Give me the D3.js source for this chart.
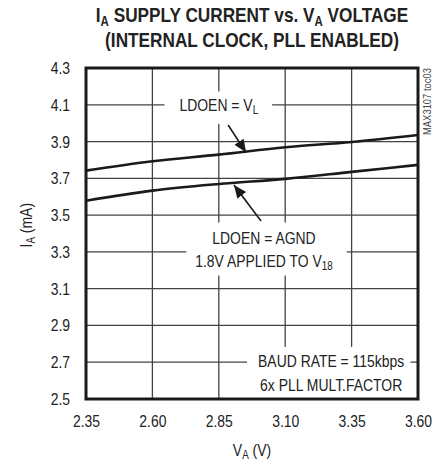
<!DOCTYPE html>
<html><head><meta charset="utf-8">
<script src="https://cdn.jsdelivr.net/npm/d3@7"></script>
<style>
html,body{margin:0;padding:0;background:#fff;}
svg{display:block;}
text{font-family:"Liberation Sans",Arial,sans-serif;fill:#222;}
</style></head>
<body>
<script>
// ---- data ----
const vA = [2.35, 2.60, 2.85, 3.10, 3.35, 3.60];
const iA_LDOEN_VL = [3.742, 3.793, 3.829, 3.869, 3.898, 3.936];
const iA_LDOEN_AGND = [3.578, 3.633, 3.669, 3.697, 3.735, 3.773];
const xTickLabels = ["2.35", "2.60", "2.85", "3.10", "3.35", "3.60"];
const yTickValues = [2.5, 2.7, 2.9, 3.1, 3.3, 3.5, 3.7, 3.9, 4.1, 4.3];
const yTickLabels = ["2.5", "2.7", "2.9", "3.1", "3.3", "3.5", "3.7", "3.9", "4.1", "4.3"];

const W = 443, H = 462;
const m = {l: 86, r: 25, t: 68, b: 63};
const iw = W - m.l - m.r, ih = H - m.t - m.b;
const SX = 0.82; // horizontal condensing for a narrow look

const svg = d3.select("body").append("svg").attr("width", W).attr("height", H);
const x = d3.scaleLinear().domain([2.35, 3.60]).range([m.l, m.l + iw]);
const y = d3.scaleLinear().domain([2.5, 4.3]).range([m.t + ih, m.t]);

function ntext(tx, ty, extra) {
  const gg = svg.append("g").attr("transform", `translate(${tx},${ty}) ${extra || ""} scale(${SX},1)`);
  return gg.append("text").attr("x", 0).attr("y", 0);
}
function addParts(t, parts, big, small, shift) {
  parts.forEach(p => {
    if (p.sub) t.append("tspan").text(p.t).style("font-size", small + "px").attr("dy", shift);
    else t.append("tspan").text(p.t).style("font-size", big + "px").attr("dy", p.back ? -shift : null);
  });
}

// title
const t1 = ntext(x(2.975), 22).attr("text-anchor", "middle").style("font-weight", "bold");
addParts(t1, [{t: "I"}, {t: "A", sub: true}, {t: " SUPPLY CURRENT vs. V", back: true}, {t: "A", sub: true}, {t: " VOLTAGE", back: true}], 21, 14, 4);
ntext(x(2.975), 47).attr("text-anchor", "middle").style("font-weight", "bold").style("font-size", "21px")
  .text("(INTERNAL CLOCK, PLL ENABLED)");

// grid
const g = svg.append("g");
g.selectAll(".vg").data(vA.slice(1, -1)).join("line")
  .attr("x1", d => x(d)).attr("x2", d => x(d)).attr("y1", y(2.5)).attr("y2", y(4.3))
  .attr("stroke", "#444").attr("stroke-width", 1.3);
g.selectAll(".hg").data(yTickValues.slice(1, -1)).join("line")
  .attr("x1", x(2.35)).attr("x2", x(3.60)).attr("y1", d => y(d)).attr("y2", d => y(d))
  .attr("stroke", "#444").attr("stroke-width", 1.3);

// axes tick labels via d3 axes
const xAxis = d3.axisBottom(x).tickValues(vA).tickFormat((d, i) => xTickLabels[i]).tickSize(0).tickPadding(16);
const ax = svg.append("g").attr("transform", `translate(0,${m.t + ih})`).call(xAxis);
ax.select(".domain").remove();
ax.selectAll("text").style("font-size", "17px").style("fill", "#222").style("font-family", "Liberation Sans, Arial, sans-serif")
  .attr("transform", `scale(${SX},1)`);
const yAxis = d3.axisLeft(y).tickValues(yTickValues).tickFormat((d, i) => yTickLabels[i]).tickSize(0).tickPadding(16 / SX);
const ay = svg.append("g").attr("transform", `translate(${m.l},0)`).call(yAxis);
ay.select(".domain").remove();
ay.selectAll("text").style("font-size", "17px").style("fill", "#222").style("font-family", "Liberation Sans, Arial, sans-serif")
  .attr("transform", `scale(${SX},1)`);

// axis titles
const xt = ntext(x(2.975), 456).attr("text-anchor", "middle");
addParts(xt, [{t: "V"}, {t: "A", sub: true}, {t: " (V)", back: true}], 17, 12, 3);
const yt = ntext(32, y(3.445), "rotate(-90)").attr("text-anchor", "middle");
addParts(yt, [{t: "I"}, {t: "A", sub: true}, {t: " (mA)", back: true}], 17, 12, 3);

// watermark
ntext(431, y(4.3), "rotate(-90)").attr("text-anchor", "end")
  .style("font-size", "11.5px").style("fill", "#444").text("MAX3107 toc03");

// annotation labels with white boxes
function label(cx, cy, lines, pad) {
  const grp = svg.append("g");
  const rect = grp.append("rect").attr("fill", "#fff");
  const inner = grp.append("g").attr("transform", `translate(${cx},${cy}) scale(${SX},1)`);
  const t = inner.append("text").attr("text-anchor", "middle");
  lines.forEach((parts, i) => {
    const ln = t.append("tspan").attr("x", 0).attr("y", i * 23.5).style("font-size", "17px");
    parts.forEach((p, j) => {
      if (j === 0) ln.text(p.t);
      else if (p.sub) t.append("tspan").text(p.t).style("font-size", "12px").attr("dy", 3);
      else t.append("tspan").text(p.t).style("font-size", "17px");
    });
  });
  const bb = t.node().getBBox();
  rect.attr("x", cx + bb.x * SX - pad[3]).attr("y", cy + bb.y - pad[0])
    .attr("width", bb.width * SX + pad[1] + pad[3]).attr("height", bb.height + pad[0] + pad[2]);
  return grp;
}
label(x(2.85), y(4.1) + 6, [[{t: "LDOEN = V"}, {t: "L", sub: true}]], [4, 14, 8, 15]);
label(x(3.02), y(3.3) - 8, [[{t: "LDOEN = AGND"}], [{t: "1.8V APPLIED TO V"}, {t: "18", sub: true}]], [6, 14, 3, 9]);
label(x(3.273), y(2.7) + 5, [[{t: "BAUD RATE = 115kbps"}], [{t: "6x PLL MULT.FACTOR"}]], [5, 6, 10, 11]);

// curves
const line = d3.line().x((d, i) => x(vA[i])).y(d => y(d)).curve(d3.curveMonotoneX);
svg.append("path").attr("d", line(iA_LDOEN_VL)).attr("fill", "none").attr("stroke", "#1a1a1a").attr("stroke-width", 2.6);
svg.append("path").attr("d", line(iA_LDOEN_AGND)).attr("fill", "none").attr("stroke", "#1a1a1a").attr("stroke-width", 2.6);

// arrows (data coords)
const defs = svg.append("defs");
defs.append("marker").attr("id", "ah").attr("viewBox", "0 0 10 10").attr("refX", 10).attr("refY", 5)
  .attr("markerWidth", 13).attr("markerHeight", 13).attr("markerUnits", "userSpaceOnUse").attr("orient", "auto")
  .append("path").attr("d", "M0,0.8 L10,5 L0,9.2 Z").attr("fill", "#1a1a1a");
const arrows = [
  {x1: 2.885, y1: 3.99, x2: 2.953, y2: 3.840},
  {x1: 3.009, y1: 3.468, x2: 2.907, y2: 3.664}
];
svg.selectAll(".arr").data(arrows).join("line")
  .attr("x1", d => x(d.x1)).attr("y1", d => y(d.y1)).attr("x2", d => x(d.x2)).attr("y2", d => y(d.y2))
  .attr("stroke", "#1a1a1a").attr("stroke-width", 1.6).attr("marker-end", "url(#ah)");

// frame
svg.append("rect").attr("x", x(2.35)).attr("y", y(4.3)).attr("width", iw).attr("height", ih)
  .attr("fill", "none").attr("stroke", "#1a1a1a").attr("stroke-width", 3);
</script>
</body></html>
